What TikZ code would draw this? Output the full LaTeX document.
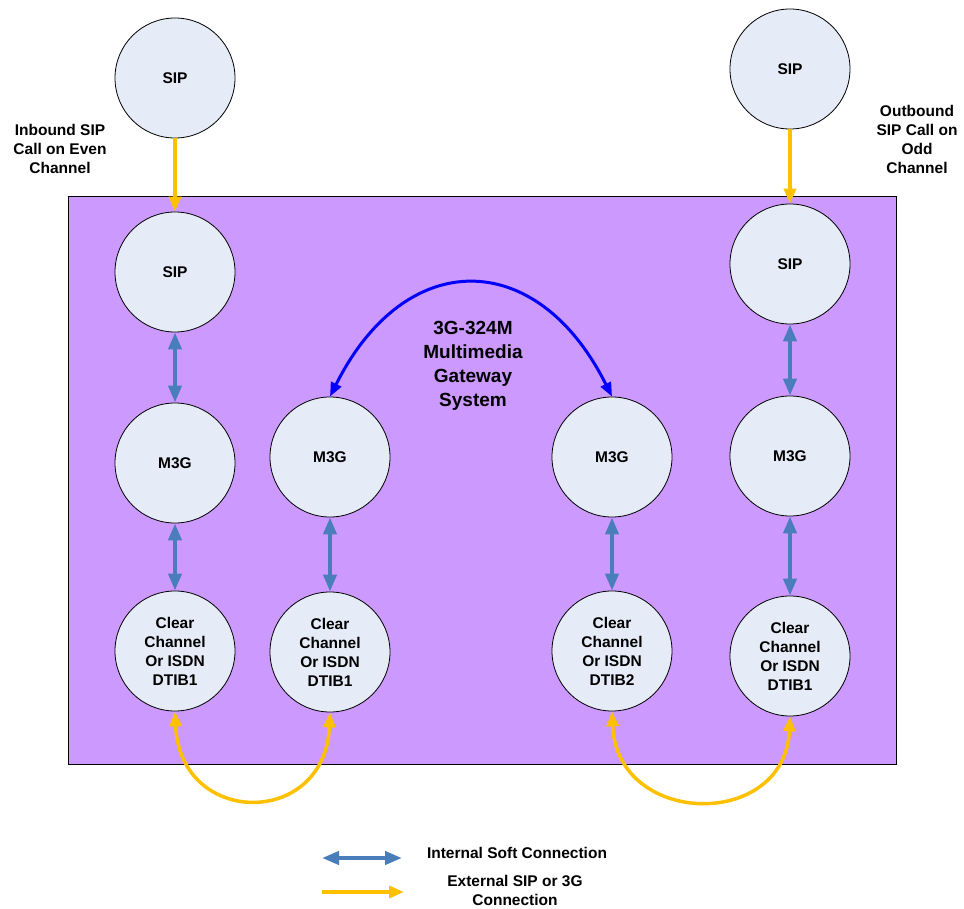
\documentclass[tikz,border=0pt]{standalone}
\usepackage{fontspec}
\setmainfont{Liberation Sans}
\usetikzlibrary{arrows.meta}
\definecolor{boxpurple}{RGB}{204,153,255}
\definecolor{unitfill}{RGB}{230,236,247}
\definecolor{softblue}{RGB}{74,126,187}
\definecolor{extyellow}{RGB}{255,192,0}
\begin{document}
\begin{tikzpicture}[x=1pt,y=-1pt,
    unit/.style={circle,draw=black,line width=0.8pt,fill=unitfill,minimum size=120pt,inner sep=0pt,
        align=center,font=\fontsize{15.5}{19}\selectfont\bfseries},
    lbl/.style={align=center,font=\fontsize{15.5}{19}\selectfont\bfseries},
    soft/.style={softblue,line width=4pt,{Triangle[length=17pt,width=13pt]}-{Triangle[length=17pt,width=13pt]}},
    ext/.style={extyellow,line width=3.5pt,-{Triangle[length=15pt,width=12pt]}},
    extboth/.style={extyellow,line width=3.5pt,{Triangle[length=15pt,width=12pt]}-{Triangle[length=15pt,width=12pt]}}]
    \useasboundingbox (0,0) rectangle (964,909);
    \draw [fill=boxpurple,line width=0.8pt] (68,196) rectangle (896,764);
    % outside SIP ends
    \node [unit] (S0) at (175,78) {SIP};
    \node [unit] (T0) at (790,69) {SIP};
    % gateway units
    \node [unit] (S1) at (175,272) {SIP};
    \node [unit] (M1) at (175,463) {M3G};
    \node [unit] (C1) at (175,651) {Clear\\Channel\\Or ISDN\\DTIB1};
    \node [unit] (M2) at (330,457) {M3G};
    \node [unit] (C2) at (330,652) {Clear\\Channel\\Or ISDN\\DTIB1};
    \node [unit] (M3) at (612,457) {M3G};
    \node [unit] (C3) at (612,651) {Clear\\Channel\\Or ISDN\\DTIB2};
    \node [unit] (S4) at (790,264) {SIP};
    \node [unit] (M4) at (790,456) {M3G};
    \node [unit] (C4) at (790,656) {Clear\\Channel\\Or ISDN\\DTIB1};
    \node [lbl] (inb) at (60,149) {Inbound SIP\\Call on Even\\Channel};
    \node [lbl] (outb) at (917,139) {Outbound\\SIP Call on\\Odd\\Channel};
    \node [align=center,font=\fontsize{19}{24}\selectfont\bfseries] (gw) at (473,366) {3G-324M\\Multimedia\\Gateway\\System};
    \draw [ext] (S0) -- (S1);
    \draw [ext] (T0) -- (S4);
    \draw [soft] (S1) -- (M1);
    \draw [soft] (M1) -- (C1);
    \draw [soft] (M2) -- (C2);
    \draw [soft] (M3) -- (C3);
    \draw [soft] (S4) -- (M4);
    \draw [soft] (M4) -- (C4);
    \draw [blue,line width=3pt,{Triangle[length=14pt,width=11pt]}-{Triangle[length=14pt,width=11pt]}]
        (M2.north) .. controls +(75,-150) and +(-75,-150) .. (M3.north);
    \draw [extboth] (C1.south) .. controls +(5,116) and +(-5,116) .. (C2.south);
    \draw [extboth] (C3.south) .. controls +(5,116) and +(-5,114) .. (C4.south);
    % legend
    \coordinate (la) at (322,858);
    \coordinate (lb) at (402,858);
    \coordinate (lc) at (322,892);
    \coordinate (ld) at (404,892);
    \draw [soft] (la) -- (lb);
    \draw [ext] (lc) -- (ld);
    \node [lbl] (lsoft) at (517,853) {Internal Soft Connection};
    \node [lbl] (lext) at (515,890) {External SIP or 3G\\Connection};
\end{tikzpicture}
\end{document}
